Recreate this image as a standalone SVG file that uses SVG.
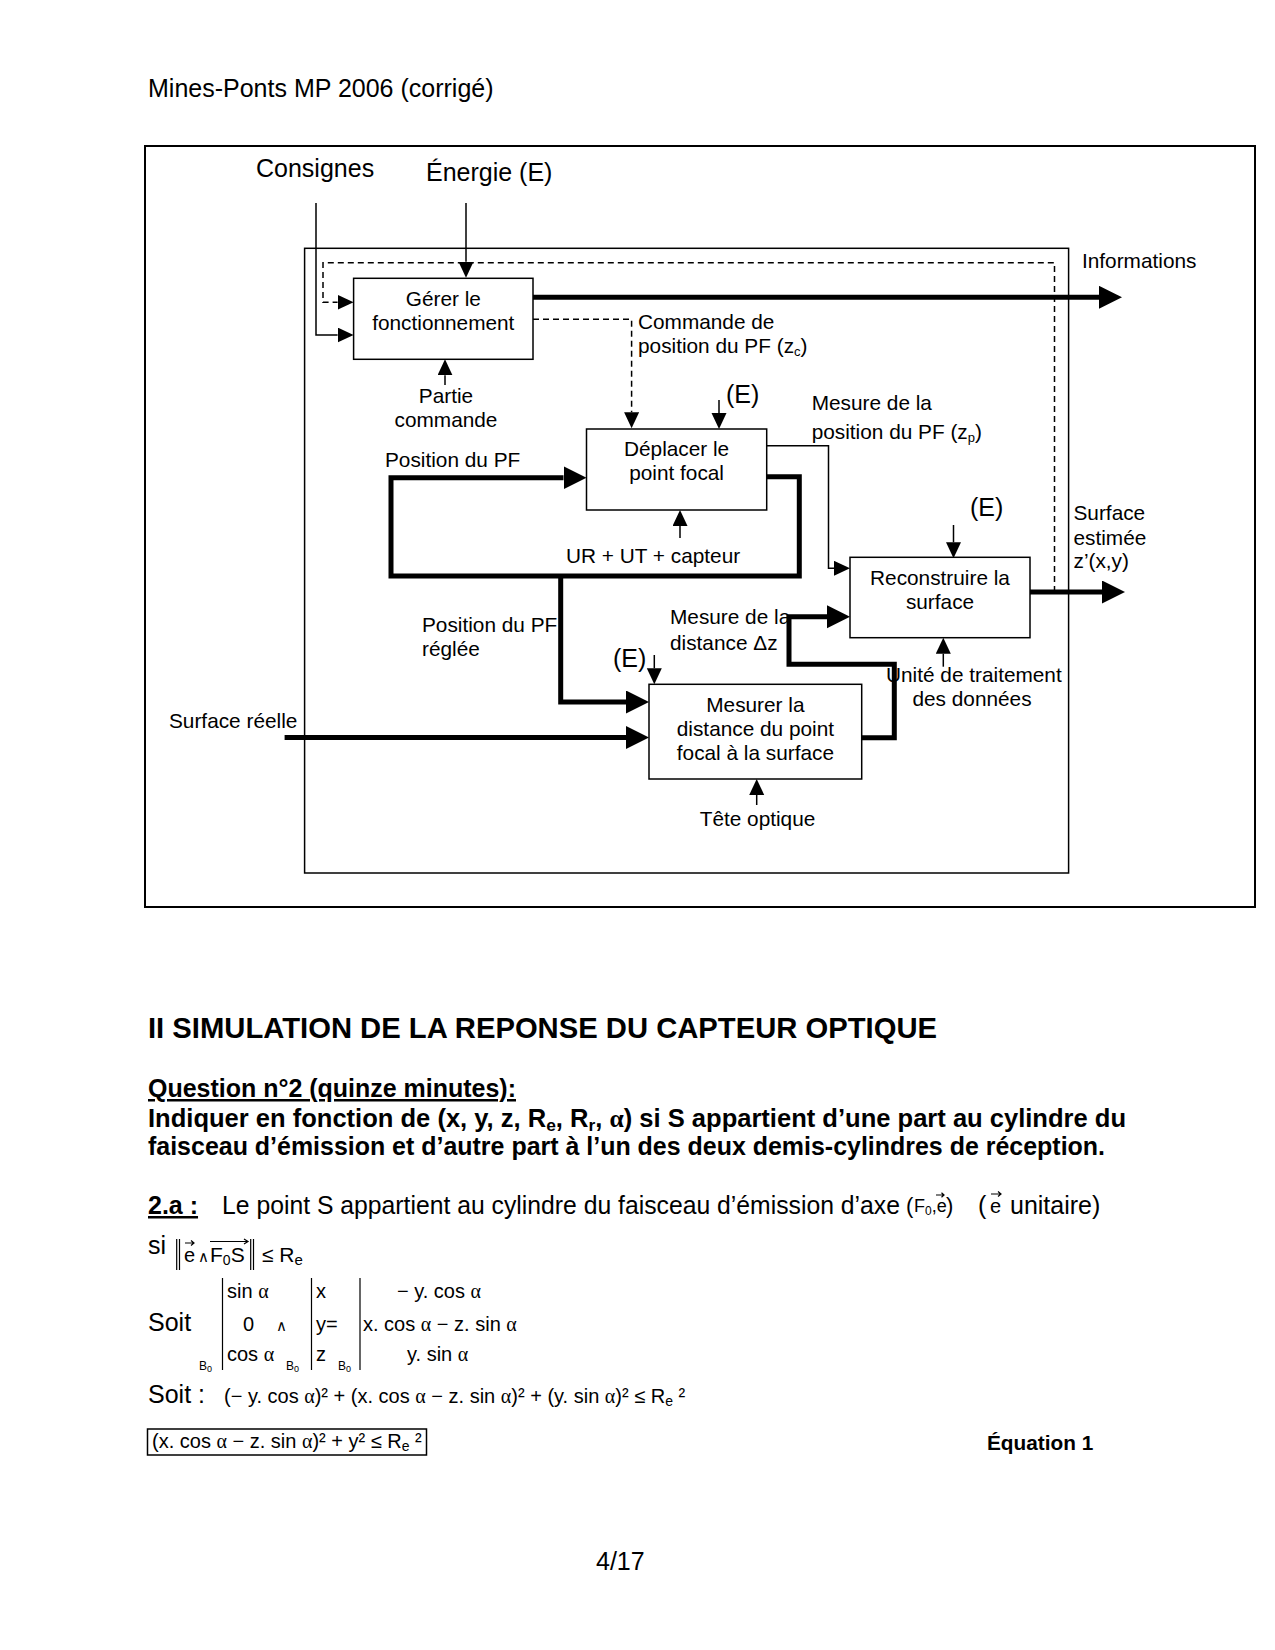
<svg xmlns="http://www.w3.org/2000/svg" width="1275" height="1650" viewBox="0 0 1275 1650">
<defs>
<style>
text{font-family:"Liberation Sans",Arial,sans-serif;fill:#000}
.s{font-size:20.8px}
.l{font-size:25px}
.b{font-size:25px}
.m{font-size:20px}
.g{font-family:"Liberation Serif","Times New Roman",serif}
.bold{font-weight:bold}
.box{fill:#fff;stroke:#000;stroke-width:1.5}
.frame{fill:none;stroke:#000}
.thin{fill:none;stroke:#000;stroke-width:1.5}
.thick{fill:none;stroke:#000;stroke-width:5;stroke-linejoin:miter}
.dash{fill:none;stroke:#000;stroke-width:1.5;stroke-dasharray:6 4}
.ma{fill:none;stroke:#000;stroke-width:1.2}
</style>
<marker id="ah" markerUnits="userSpaceOnUse" markerWidth="17" markerHeight="16" refX="0" refY="7.5" orient="auto"><path d="M0,0 L16,7.5 L0,15 z" fill="#000"/></marker>
<marker id="AH" markerUnits="userSpaceOnUse" markerWidth="24" markerHeight="24" refX="0" refY="11.5" orient="auto"><path d="M0,0 L23,11.5 L0,23 z" fill="#000"/></marker>
</defs>
<rect width="1275" height="1650" fill="#fff"/>

<text class="l" x="148" y="97">Mines-Ponts MP 2006 (corrigé)</text>

<g id="frames">
<rect class="frame" x="145" y="146" width="1110" height="761" stroke-width="2"/>
<rect class="frame" x="304.6" y="248.3" width="764" height="624.7" stroke-width="1.5"/>
</g>

<g id="connectors">
<path class="thin" d="M316,203 V335 H337.6" marker-end="url(#ah)"/>
<path class="thin" d="M466,203 V261.7" marker-end="url(#ah)"/>
<path class="dash" d="M1054.5,592 V262.7 H323 V302.3 H337.6" marker-end="url(#ah)"/>
<path class="thick" d="M533,297.3 H1099" marker-end="url(#AH)"/>
<path class="dash" d="M533,319.3 H631.6 V412.3" marker-end="url(#ah)"/>
<path class="thin" d="M445,385 V375.3" marker-end="url(#ah)"/>
<path class="thin" d="M719,400 V413" marker-end="url(#ah)"/>
<path class="thin" d="M766.7,445.7 H828.5 V568.3 H834" marker-end="url(#ah)"/>
<path class="thick" d="M766.7,476.7 H799.3 V576 H391 V477.7 H563.5" marker-end="url(#AH)"/>
<path class="thin" d="M680,538 V526" marker-end="url(#ah)"/>
<path class="thick" d="M560.7,576 V702 H626" marker-end="url(#AH)"/>
<path class="thick" d="M284.6,737.5 H626" marker-end="url(#AH)"/>
<path class="thin" d="M654.3,655 V668.3" marker-end="url(#ah)"/>
<path class="thick" d="M861.7,737.7 H894.3 V664.3 H789 V616.7 H827" marker-end="url(#AH)"/>
<path class="thin" d="M756.7,805 V795" marker-end="url(#ah)"/>
<path class="thin" d="M953.5,525 V542.3" marker-end="url(#ah)"/>
<path class="thin" d="M943.3,666.7 V653.7" marker-end="url(#ah)"/>
<path class="thick" d="M1030,592 H1102" marker-end="url(#AH)"/>
</g>

<g id="node-gerer">
<rect class="box" x="353.6" y="278.3" width="179.4" height="81"/>
<text class="s" x="443.3" y="305.7" text-anchor="middle">Gérer le</text>
<text class="s" x="443.3" y="330" text-anchor="middle">fonctionnement</text>
</g>
<g id="node-deplacer">
<rect class="box" x="586.5" y="429" width="180.2" height="81"/>
<text class="s" x="676.6" y="456" text-anchor="middle">Déplacer le</text>
<text class="s" x="676.6" y="480" text-anchor="middle">point focal</text>
</g>
<g id="node-reconstruire">
<rect class="box" x="850" y="557.3" width="180" height="80.4"/>
<text class="s" x="940" y="585" text-anchor="middle">Reconstruire la</text>
<text class="s" x="940" y="608.5" text-anchor="middle">surface</text>
</g>
<g id="node-mesurer">
<rect class="box" x="649" y="684.3" width="212.7" height="94.7"/>
<text class="s" x="755.4" y="711.7" text-anchor="middle">Mesurer la</text>
<text class="s" x="755.4" y="735.7" text-anchor="middle">distance du point</text>
<text class="s" x="755.4" y="760" text-anchor="middle">focal à la surface</text>
</g>

<g id="labels">
<text class="l" x="256" y="177">Consignes</text>
<text class="l" x="426" y="181">Énergie (E)</text>
<text class="s" x="1082" y="268">Informations</text>
<text class="s" x="638" y="329">Commande de</text>
<text class="s" x="638" y="353.3">position du PF (z<tspan font-size="13" dy="3">c</tspan><tspan dy="-3">)</tspan></text>
<text class="s" x="446" y="403" text-anchor="middle">Partie</text>
<text class="s" x="446" y="426.7" text-anchor="middle">commande</text>
<text class="l" x="726" y="403">(E)</text>
<text class="s" x="811.7" y="410">Mesure de la</text>
<text class="s" x="811.7" y="438.5">position du PF (z<tspan font-size="13" dy="3">p</tspan><tspan dy="-3">)</tspan></text>
<text class="s" x="385" y="466.7">Position du PF</text>
<text class="l" x="970" y="516">(E)</text>
<text class="s" x="1073.5" y="520">Surface</text>
<text class="s" x="1073.5" y="544.5">estimée</text>
<text class="s" x="1073.5" y="568">z’(x,y)</text>
<text class="s" x="566" y="562.7">UR + UT + capteur</text>
<text class="s" x="670" y="624">Mesure de la</text>
<text class="s" x="670" y="650">distance Δz</text>
<text class="s" x="422" y="632">Position du PF</text>
<text class="s" x="422" y="656">réglée</text>
<text class="l" x="613" y="666.7">(E)</text>
<text class="s" x="886" y="681.7">Unité de traitement</text>
<text class="s" x="972" y="706" text-anchor="middle">des données</text>
<text class="s" x="169" y="727.5">Surface réelle</text>
<text class="s" x="757.5" y="825.5" text-anchor="middle">Tête optique</text>
</g>

<g id="text-section">
<text class="bold" font-size="29.2" x="148" y="1038" textLength="789" lengthAdjust="spacingAndGlyphs">II SIMULATION DE LA REPONSE DU CAPTEUR OPTIQUE</text>
<text class="bold b" x="148" y="1097" text-decoration="underline" textLength="368" lengthAdjust="spacingAndGlyphs">Question n°2 (quinze minutes):</text>
<text class="bold b" x="148" y="1127" textLength="978" lengthAdjust="spacingAndGlyphs">Indiquer en fonction de (x, y, z, R<tspan font-size="17" dy="4">e</tspan><tspan dy="-4">, R</tspan><tspan font-size="17" dy="4">r</tspan><tspan dy="-4">, </tspan><tspan class="g">α</tspan>) si S appartient d’une part au cylindre du</text>
<text class="bold b" x="148" y="1155" textLength="957" lengthAdjust="spacingAndGlyphs">faisceau d’émission et d’autre part à l’un des deux demis-cylindres de réception.</text>

<text class="bold b" x="148" y="1214" text-decoration="underline">2.a :</text>
<text class="b" x="222" y="1214" textLength="678" lengthAdjust="spacingAndGlyphs">Le point S appartient au cylindre du faisceau d’émission d’axe</text>
<text font-size="22" x="906" y="1213">(</text>
<text font-size="18" x="914" y="1212">F<tspan font-size="12" dy="3">0</tspan><tspan dy="-3">,e</tspan></text>
<text font-size="22" x="946" y="1213">)</text>
<path class="ma" d="M936,1195 H944 M941.5,1192.8 L944,1195 L941.5,1197.2"/>
<text class="b" x="978" y="1214">(</text>
<text class="m" x="990" y="1213">e</text>
<path class="ma" d="M991,1194 H1001 M998,1191.5 L1001,1194 L998,1196.5"/>
<text class="b" x="1010" y="1214">unitaire)</text>

<text class="b" x="148" y="1254">si</text>
<path class="ma" d="M176.7,1239 V1270 M179.5,1239 V1270 M250.7,1239 V1270 M253.5,1239 V1270"/>
<text class="m" x="184" y="1262">e</text>
<path class="ma" d="M185,1243 H194 M191,1240.5 L194,1243 L191,1245.5"/>
<text font-size="15" x="198" y="1262">∧</text>
<text font-size="21" x="210" y="1262">F<tspan font-size="14" dy="3">0</tspan><tspan dy="-3">S</tspan></text>
<path class="ma" d="M210,1241.5 H248 M244,1239 L248,1241.5 L244,1244"/>
<text font-size="21" x="262" y="1262">≤ R<tspan font-size="15" dy="3">e</tspan></text>

<text class="b" x="148" y="1331">Soit</text>
<path class="ma" d="M222.5,1278 V1370 M311.5,1278 V1370 M360,1278 V1370"/>
<text font-size="12" x="199" y="1370">B<tspan font-size="9" dy="2">0</tspan></text>
<text font-size="12" x="286" y="1370">B<tspan font-size="9" dy="2">0</tspan></text>
<text font-size="12" x="338" y="1370">B<tspan font-size="9" dy="2">0</tspan></text>
<text class="m" x="227" y="1298">sin <tspan class="g">α</tspan></text>
<text class="m" x="243" y="1331">0</text>
<text font-size="15" x="276" y="1331">∧</text>
<text class="m" x="227" y="1361">cos <tspan class="g">α</tspan></text>
<text class="m" x="316" y="1298">x</text>
<text class="m" x="316" y="1331">y=</text>
<text class="m" x="316" y="1361">z</text>
<text class="m" x="397" y="1298">− y. cos <tspan class="g">α</tspan></text>
<text class="m" x="363" y="1331">x. cos <tspan class="g">α</tspan> − z. sin <tspan class="g">α</tspan></text>
<text class="m" x="407" y="1361">y. sin <tspan class="g">α</tspan></text>

<text class="b" x="148" y="1403">Soit :</text>
<text class="m" x="224" y="1403">(− y. cos <tspan class="g">α</tspan>)² + (x. cos <tspan class="g">α</tspan> − z. sin <tspan class="g">α</tspan>)² + (y. sin <tspan class="g">α</tspan>)² ≤ R<tspan font-size="14" dy="3">e</tspan><tspan dy="-3"> ²</tspan></text>

<rect class="thin" x="147.5" y="1429" width="279" height="26"/>
<text class="m" x="152" y="1448">(x. cos <tspan class="g">α</tspan> − z. sin <tspan class="g">α</tspan>)² + y² ≤ R<tspan font-size="14" dy="3">e</tspan><tspan dy="-3"> ²</tspan></text>

<text class="bold" font-size="20.8" x="987" y="1450">Équation 1</text>

<text class="l" x="596" y="1570">4/17</text>
</g>
</svg>
